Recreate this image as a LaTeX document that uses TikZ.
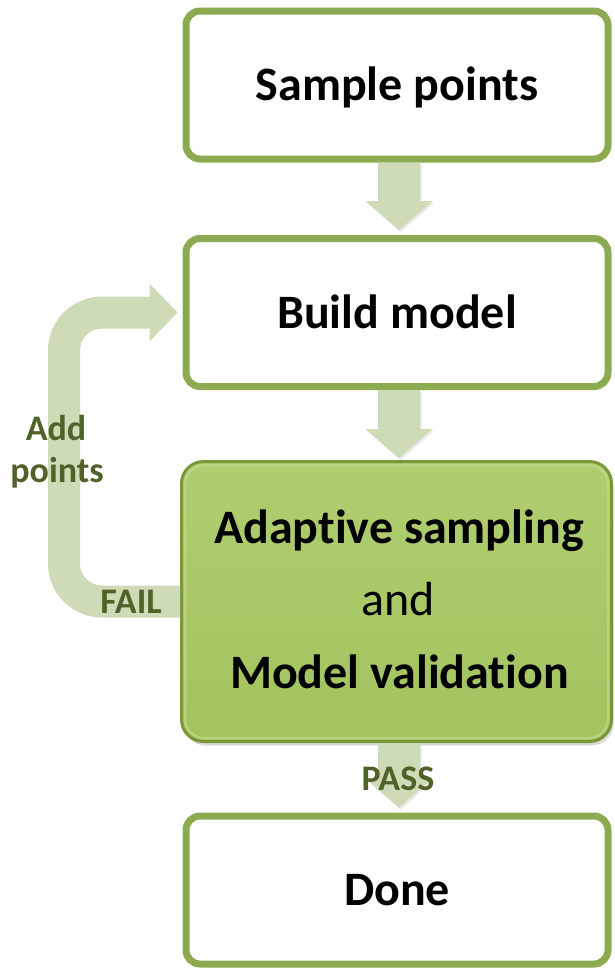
\documentclass[tikz,border=0pt]{standalone}
\usepackage{fontspec}
\setmainfont{Carlito}[Ligatures=NoCommon]
\usetikzlibrary{calc,shadows}
\definecolor{boxgreen}{RGB}{140,170,80}
\definecolor{paleg}{RGB}{205,220,182}
\definecolor{labelg}{RGB}{79,98,40}
\definecolor{gtop}{RGB}{176,206,112}
\definecolor{gbot}{RGB}{162,195,94}
\definecolor{gedge}{RGB}{122,152,58}
\definecolor{ghigh}{RGB}{192,218,140}
\newcommand\fatdown[2]{%
  \fill[paleg, drop shadow={shadow xshift=1.5pt, shadow yshift=-2pt, opacity=0.18}]
    let \p1=(#1), \p2=(#2) in
    (\x1-21pt,\y1) -- (\x1+21pt,\y1) -- (\x1+21pt,\y2+29pt) -- (\x1+33.5pt,\y2+29pt)
    -- (\x1,\y2) -- (\x1-33.5pt,\y2+29pt) -- (\x1-21pt,\y2+29pt) -- cycle;}
\begin{document}
\begin{tikzpicture}[x=1pt,y=-1pt,
  whitebox/.style={draw=boxgreen, line width=7pt, fill=white, rounded corners=14pt,
    minimum width=422pt, minimum height=148pt, inner sep=0pt,
    font=\fontsize{48}{58}\selectfont\bfseries, text height=31pt, text depth=0pt,
    drop shadow={shadow xshift=2pt, shadow yshift=-3pt, opacity=0.22}},
  greenbox/.style={draw=gedge, line width=3pt, top color=gtop, bottom color=gbot,
    rounded corners=22pt, minimum width=430pt, minimum height=280pt, inner sep=0pt,
    drop shadow={shadow xshift=2pt, shadow yshift=-4pt, opacity=0.3}},
  maintext/.style={font=\fontsize{48}{58}\selectfont, anchor=base, inner sep=0pt},
  lbl/.style={font=\fontsize{36}{43}\selectfont\bfseries, text=labelg, anchor=base, inner sep=0pt},
  loopband/.style={draw=paleg, line width=32pt, rounded corners=38pt}
]
\useasboundingbox (0,0) rectangle (614,970);

\node[whitebox] (b1) at (397,85) {Sample points};
\node[whitebox] (b2) at (397,312.5) {Build model};
\node[greenbox] (b3) at (396.5,601.5) {};
\draw[ghigh, line width=2.5pt, opacity=0.7, rounded corners=19pt]
  ($(b3.north west)+(5,5)$) rectangle ($(b3.south east)+(-5,-5)$);
\node[whitebox] (b4) at (397,890) {Done};

\node[maintext] (t1) at (399,543) {\bfseries Adaptive sampling};
\node[maintext] (t2) at (398,615) {and};
\node[maintext] (t3) at (399.5,688) {\bfseries Model validation};

\fatdown{$(b1.south)+(2,0)$}{$(b2.north)+(2,-5)$}
\fatdown{$(b2.south)+(2,0)$}{$(b3.north)+(2.5,-2)$}
\fatdown{$(b3.south)+(2.5,0)$}{$(b4.north)+(2,-5)$}

\coordinate (lx) at (64,0);
\draw[loopband] (b3.west) -- (b3.west -| lx) -- (b2.west -| lx) -- ($(b2.west)+(-31,0)$);
\fill[paleg] let \p1=(b2.west) in (\x1-33pt,\y1+29pt) -- (\x1-5pt,\y1) -- (\x1-33pt,\y1-29pt) -- cycle;

\node[lbl] (pass) at (398,790) {PASS};
\node[lbl] (fail) at (131,613) {FAIL};
\node[lbl] (add) at (56,440) {Add};
\node[lbl] (pts) at (57,482) {points};
\end{tikzpicture}
\end{document}
